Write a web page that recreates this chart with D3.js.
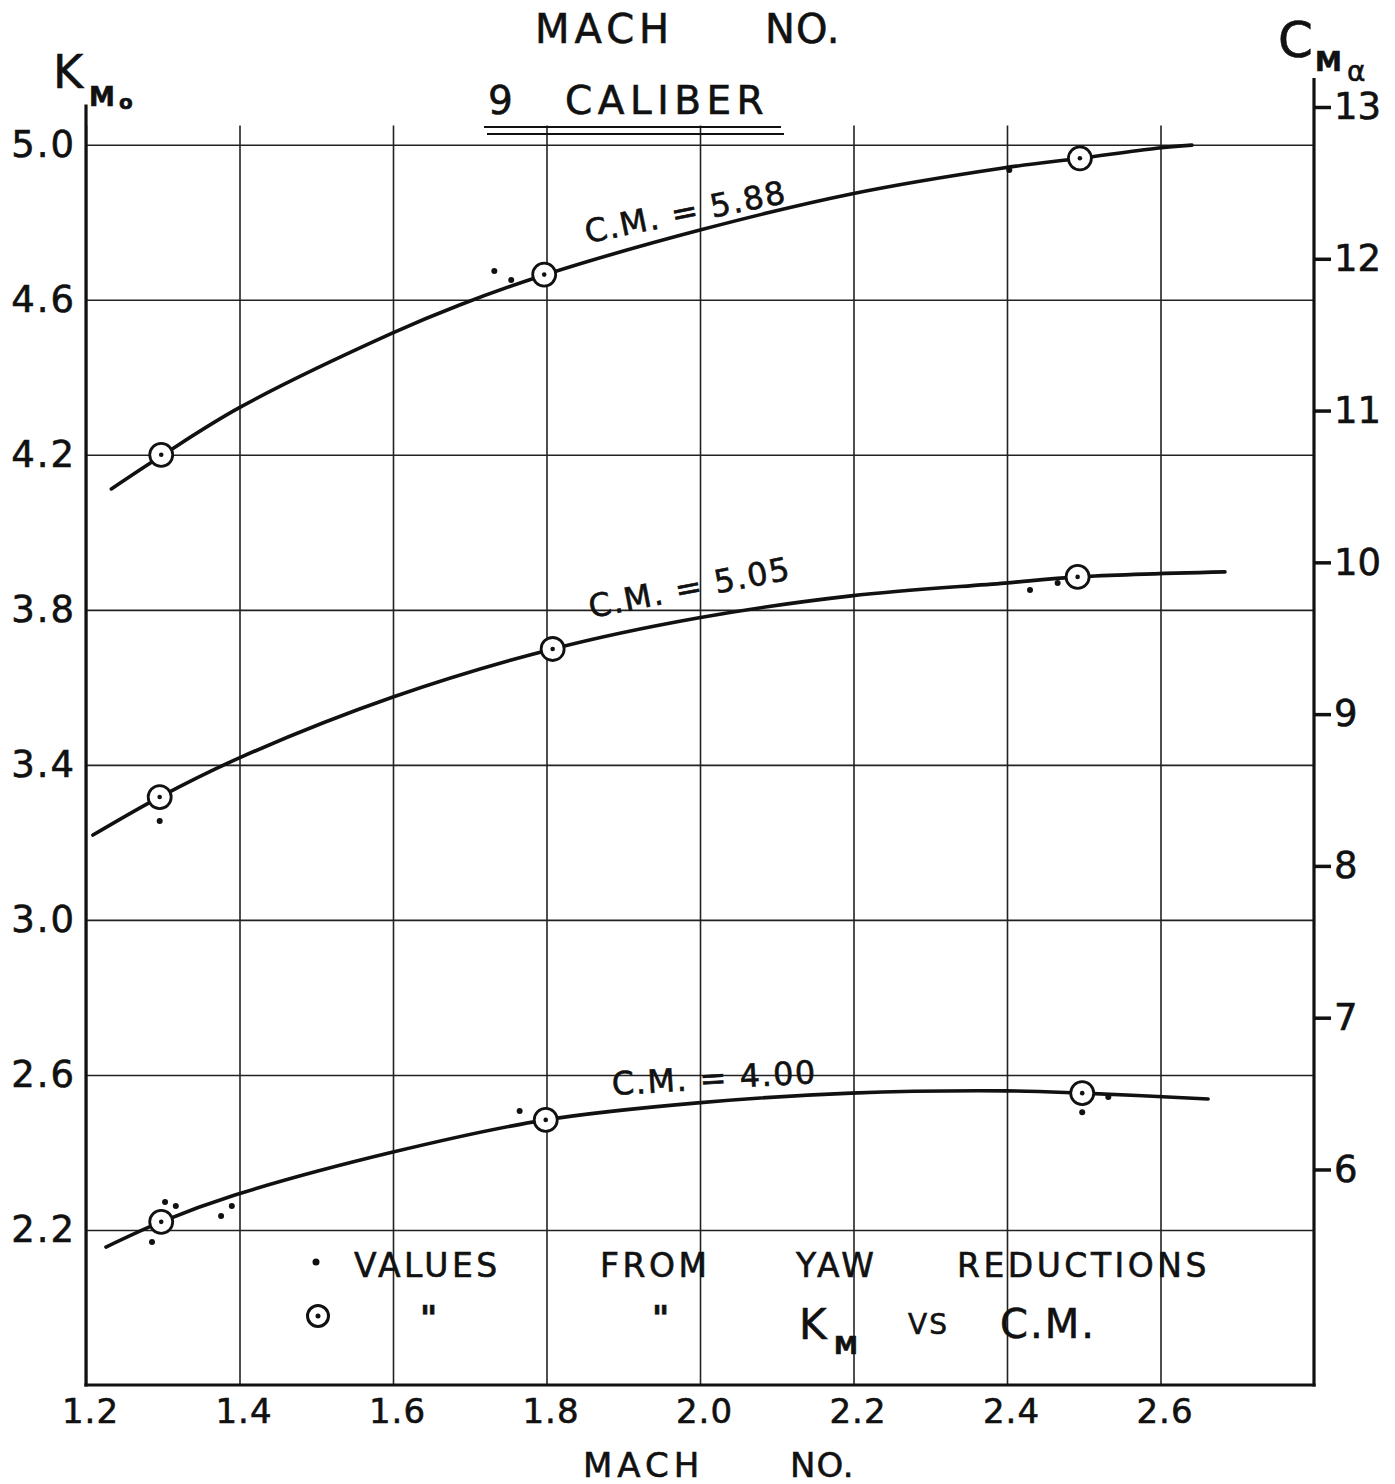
<!DOCTYPE html>
<html>
<head>
<meta charset="UTF-8">
<title>K_Mo vs Mach No. - 9 caliber</title>
<script src="https://d3js.org/d3.v7.min.js"></script>
<style>
  body { margin: 0; background: #fff; }
  svg text { font-family: "DejaVu Sans", sans-serif; fill: #111; stroke: #111; stroke-width: 0.6px; }
  .grid line { stroke: #222; stroke-width: 1.6; }
  .grid path { display: none; }
</style>
</head>
<body>
<div id="chart"></div>
<script>

// tick labels
var machTicks = [1.2, 1.4, 1.6, 1.8, 2.0, 2.2, 2.4, 2.6];
var kTicks = [2.2, 2.6, 3.0, 3.4, 3.8, 4.2, 4.6, 5.0];
var cmaTicks = [6, 7, 8, 9, 10, 11, 12, 13];

var cmLabels = ["C.M. = 5.88", "C.M. = 5.05", "C.M. = 4.00"];

// C.M. = 5.88 : faired curve, K_M vs C.M. points (circles), yaw reductions (dots)
var curveMach588 = [1.233, 1.298, 1.401, 1.599, 1.686, 1.797, 2.000, 2.197, 2.395, 2.495, 2.595, 2.641];
var curveK588    = [4.112, 4.197, 4.323, 4.514, 4.586, 4.664, 4.780, 4.873, 4.940, 4.965, 4.991, 4.999];
var circleMach588 = [1.298, 1.797, 2.495];
var circleK588    = [4.200, 4.665, 4.965];
var dotMach588 = [1.732, 1.754, 2.403];
var dotK588    = [4.674, 4.651, 4.935];

// C.M. = 5.05
var curveMach505 = [1.209, 1.296, 1.402, 1.600, 1.808, 1.997, 2.197, 2.397, 2.492, 2.684];
var curveK505    = [3.219, 3.317, 3.420, 3.575, 3.699, 3.779, 3.836, 3.869, 3.885, 3.898];
var circleMach505 = [1.296, 1.808, 2.492];
var circleK505    = [3.317, 3.699, 3.885];
var dotMach505 = [1.296, 2.430, 2.466];
var dotK505    = [3.255, 3.851, 3.869];

// C.M. = 4.00
var curveMach400 = [1.226, 1.298, 1.394, 1.600, 1.799, 1.997, 2.197, 2.397, 2.498, 2.662];
var curveK400    = [2.156, 2.221, 2.290, 2.401, 2.484, 2.528, 2.553, 2.559, 2.553, 2.538];
var circleMach400 = [1.298, 1.799, 2.498];
var circleK400    = [2.221, 2.484, 2.553];
var dotMach400 = [1.303, 1.317, 1.286, 1.376, 1.390, 1.765, 2.498, 2.532];
var dotK400    = [2.272, 2.262, 2.169, 2.236, 2.262, 2.507, 2.504, 2.543];

function pairs(xs, ys) {
    return xs.map(function (d, i) { return [d, ys[i]]; });
}

var series = [
    {label: cmLabels[0], curve: pairs(curveMach588, curveK588), circles: pairs(circleMach588, circleK588), dots: pairs(dotMach588, dotK588)},
    {label: cmLabels[1], curve: pairs(curveMach505, curveK505), circles: pairs(circleMach505, circleK505), dots: pairs(dotMach505, dotK505)},
    {label: cmLabels[2], curve: pairs(curveMach400, curveK400), circles: pairs(circleMach400, circleK400), dots: pairs(dotMach400, dotK400)}
];

var width = 1395, height = 1484;

var x = d3.scaleLinear().domain([1.2, 2.8]).range([86, 1314]);
var y = d3.scaleLinear().domain([1.8, 5.1]).range([1385, 106]);
var yR = d3.scaleLinear().domain([4.58, 13]).range([1385, 107]);

var svg = d3.select("#chart").append("svg")
        .attr("width", width)
        .attr("height", height)
        .style("background", "#fff");

// vertical grid + mach tick labels
var bottom = svg.append("g").attr("class", "grid")
        .attr("transform", "translate(0," + y(1.8) + ")")
        .call(d3.axisBottom(x)
                .tickValues(machTicks)
                .tickSizeInner(-(y(1.8) - y(5.05)))
                .tickSizeOuter(0)
                .tickPadding(12)
                .tickFormat(d3.format(".1f")));
bottom.selectAll("text")
        .attr("font-size", 34)
        .attr("dy", "0.75em")
        .attr("dx", 4)
        .style("letter-spacing", "1px");

// horizontal grid + K labels
var left = svg.append("g").attr("class", "grid")
        .attr("transform", "translate(" + x(1.2) + ",0)")
        .call(d3.axisLeft(y)
                .tickValues(kTicks)
                .tickSizeInner(-(x(2.8) - x(1.2)))
                .tickSizeOuter(0)
                .tickPadding(10)
                .tickFormat(d3.format(".1f")));
left.selectAll("text")
        .attr("font-size", 37)
        .style("letter-spacing", "2px");

// right C_M alpha axis
var right = svg.append("g")
        .attr("transform", "translate(" + x(2.8) + ",0)")
        .call(d3.axisRight(yR)
                .tickValues(cmaTicks)
                .tickSize(17)
                .tickPadding(3)
                .tickFormat(d3.format("d")));
right.select(".domain").remove();
right.selectAll("line").attr("stroke", "#111").attr("stroke-width", 3.5);
right.selectAll("text").attr("font-size", 37).attr("font-family", "DejaVu Sans");

// heavy frame lines
var frame = svg.append("g").attr("stroke", "#111").attr("stroke-width", 3.2).attr("stroke-linecap", "square");
frame.append("line").attr("x1", x(1.2)).attr("x2", x(1.2)).attr("y1", y(5.1)).attr("y2", y(1.8));
frame.append("line").attr("x1", x(1.2)).attr("x2", x(2.8)).attr("y1", y(1.8)).attr("y2", y(1.8));
frame.append("line").attr("x1", x(2.8)).attr("x2", x(2.8)).attr("y1", yR(13.18)).attr("y2", y(1.8));

// curves
var line = d3.line()
        .x(function (d) { return x(d[0]); })
        .y(function (d) { return y(d[1]); })
        .curve(d3.curveCatmullRom.alpha(0.5));

var g = svg.selectAll(".series").data(series).join("g").attr("class", "series");

g.append("path")
        .attr("d", function (d) { return line(d.curve); })
        .attr("fill", "none")
        .attr("stroke", "#111")
        .attr("stroke-width", 3.6)
        .attr("stroke-linecap", "round");

g.selectAll(".dot").data(function (d) { return d.dots; }).join("circle")
        .attr("class", "dot")
        .attr("cx", function (d) { return x(d[0]); })
        .attr("cy", function (d) { return y(d[1]); })
        .attr("r", 3)
        .attr("fill", "#111");

var ring = g.selectAll(".ring").data(function (d) { return d.circles; }).join("g")
        .attr("class", "ring")
        .attr("transform", function (d) { return "translate(" + x(d[0]) + "," + y(d[1]) + ")"; });
ring.append("circle").attr("r", 11.5).attr("fill", "#fff").attr("stroke", "#111").attr("stroke-width", 2.8);
ring.append("circle").attr("r", 2.3).attr("fill", "#111");

// curve labels (lettered along the curves)
var labelPos = [
    {m: 1.853, k: 4.746, angle: -11.5},
    {m: 1.858, k: 3.779, angle: -11},
    {m: 1.886, k: 2.548, angle: -3.4}
];
g.append("text")
        .attr("transform", function (d, i) {
            var p = labelPos[i];
            return "translate(" + x(p.m) + "," + y(p.k) + ") rotate(" + p.angle + ")";
        })
        .attr("font-size", 32)
        .style("letter-spacing", "1.5px")
        .text(function (d) { return d.label; });

// titles
svg.append("text").attr("x", 535).attr("y", 43).attr("font-size", 40).style("letter-spacing", "5px").text("MACH");
svg.append("text").attr("x", 765).attr("y", 43).attr("font-size", 40).style("letter-spacing", "1px").text("NO.");
svg.append("text").attr("x", 488).attr("y", 114).attr("font-size", 39).text("9");
svg.append("text").attr("x", 565).attr("y", 114).attr("font-size", 39).style("letter-spacing", "5.5px").text("CALIBER");
svg.append("line").attr("x1", 484).attr("x2", 781).attr("y1", 127).attr("y2", 127).attr("stroke", "#111").attr("stroke-width", 2.2);
svg.append("line").attr("x1", 487).attr("x2", 784).attr("y1", 134).attr("y2", 134).attr("stroke", "#111").attr("stroke-width", 2.2);

svg.append("text").attr("x", 583).attr("y", 1477).attr("font-size", 34).style("letter-spacing", "5px").text("MACH");
svg.append("text").attr("x", 790).attr("y", 1477).attr("font-size", 34).style("letter-spacing", "1px").text("NO.");

// left axis title K_Mo
svg.append("text").attr("x", 53).attr("y", 88).attr("font-size", 46).text("K");
svg.append("text").attr("x", 89).attr("y", 106).attr("font-size", 26).attr("font-weight", "bold").text("M");
svg.append("text").attr("x", 119).attr("y", 109).attr("font-size", 20).attr("font-weight", "bold").text("o");

// right axis title C_M alpha
svg.append("text").attr("x", 1278).attr("y", 57).attr("font-size", 50).text("C");
svg.append("text").attr("x", 1315).attr("y", 71).attr("font-size", 27).attr("font-weight", "bold").text("M");
svg.append("text").attr("x", 1347).attr("y", 81).attr("font-size", 28).text("α");

// legend
var legend = svg.append("g").attr("font-size", 33).style("letter-spacing", "3.5px");
legend.append("circle").attr("cx", 316).attr("cy", 1262).attr("r", 3.5).attr("fill", "#111");
legend.append("text").attr("x", 354).attr("y", 1277).text("VALUES");
legend.append("text").attr("x", 600).attr("y", 1277).text("FROM");
legend.append("text").attr("x", 796).attr("y", 1277).text("YAW");
legend.append("text").attr("x", 957).attr("y", 1277).text("REDUCTIONS");

legend.append("circle").attr("cx", 318).attr("cy", 1316).attr("r", 10.5).attr("fill", "#fff").attr("stroke", "#111").attr("stroke-width", 3);
legend.append("circle").attr("cx", 318).attr("cy", 1316).attr("r", 2.5).attr("fill", "#111");
legend.append("text").attr("x", 420).attr("y", 1330).attr("font-weight", "bold").text("\"");
legend.append("text").attr("x", 652).attr("y", 1330).attr("font-weight", "bold").text("\"");
legend.append("text").attr("x", 799).attr("y", 1339).attr("font-size", 42).style("letter-spacing", "0px").text("K");
legend.append("text").attr("x", 834).attr("y", 1354).attr("font-size", 24).attr("font-weight", "bold").style("letter-spacing", "0px").text("M");
legend.append("text").attr("x", 908).attr("y", 1334).attr("font-size", 28).style("letter-spacing", "2px").text("VS");
legend.append("text").attr("x", 1000).attr("y", 1338).attr("font-size", 40).style("letter-spacing", "2px").text("C.M.");

</script>
</body>
</html>
